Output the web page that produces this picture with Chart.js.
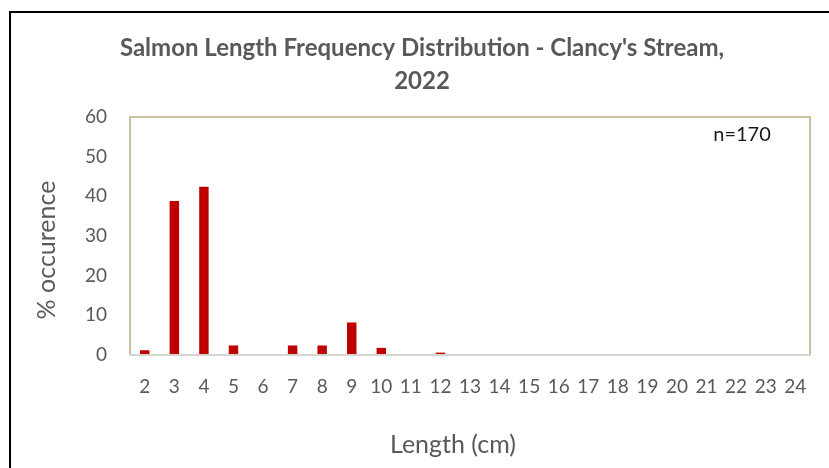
<!DOCTYPE html>
<html>
<head>
<meta charset="utf-8">
<script src="https://cdn.jsdelivr.net/npm/chart.js@4.4.1/dist/chart.umd.min.js"></script>
<style>
  html, body { margin: 0; padding: 0; background: #ffffff; }
  #wrap { position: relative; width: 829px; height: 468px; }
  canvas { display: block; }
</style>
</head>
<body>
<div id="wrap"><canvas id="c" width="829" height="468"></canvas></div>
<script>
// ---- data ----
const lengthCategories = ['2','3','4','5','6','7','8','9','10','11','12','13','14','15','16','17','18','19','20','21','22','23','24'];
const percentOccurrence = [1.2, 38.8, 42.4, 2.4, 0, 2.4, 2.4, 8.2, 1.8, 0, 0.6, 0, 0, 0, 0, 0, 0, 0, 0, 0, 0, 0, 0];
const yTickValues = [0, 10, 20, 30, 40, 50, 60];
const titleLines = ["Salmon Length Frequency Distribution - Clancy's Stream,", "2022"];
const sampleLabel = 'n=170';
const xAxisTitle = 'Length (cm)';
const yAxisTitle = '% occurence';

const FONT = 'Lato, "Open Sans", "Liberation Sans", sans-serif';
const GREY = '#595959';

const framePlugin = {
  id: 'framePlugin',
  beforeDraw(chart) {
    const ctx = chart.ctx;
    ctx.save();
    ctx.fillStyle = '#ffffff';
    ctx.fillRect(0, 0, chart.width, chart.height);
    ctx.strokeStyle = '#000000';
    ctx.lineWidth = 2;
    ctx.beginPath();
    ctx.moveTo(10, chart.height + 5);
    ctx.lineTo(10, 12);
    ctx.lineTo(chart.width + 5, 12);
    ctx.stroke();
    ctx.restore();
  },
  afterDatasetsDraw(chart) {
    const ctx = chart.ctx;
    const a = chart.chartArea;
    ctx.save();
    ctx.lineWidth = 2;
    ctx.strokeStyle = '#C9C19F';
    ctx.beginPath();
    ctx.moveTo(a.left, a.bottom);
    ctx.lineTo(a.left, a.top);
    ctx.lineTo(a.right, a.top);
    ctx.lineTo(a.right, a.bottom);
    ctx.stroke();
    ctx.strokeStyle = '#D6D5CF';
    ctx.beginPath();
    ctx.moveTo(a.left - 1, a.bottom);
    ctx.lineTo(a.right + 1, a.bottom);
    ctx.stroke();
    // sample size annotation
    ctx.fillStyle = '#1a1a1a';
    ctx.font = '20px ' + FONT;
    ctx.textAlign = 'center';
    ctx.textBaseline = 'middle';
    ctx.fillText(sampleLabel, 742, 135);
    // axis titles
    ctx.fillStyle = GREY;
    ctx.font = '25px ' + FONT;
    ctx.fillText(xAxisTitle, 453, 445);
    ctx.translate(47, 250);
    ctx.rotate(-Math.PI / 2);
    ctx.fillText(yAxisTitle, 0, 0);
    ctx.restore();
  }
};

new Chart(document.getElementById('c'), {
  type: 'bar',
  data: {
    labels: lengthCategories,
    datasets: [{
      data: percentOccurrence,
      backgroundColor: '#C00000',
      borderWidth: 0,
      barPercentage: 0.32,
      categoryPercentage: 1.0
    }]
  },
  options: {
    responsive: false,
    animation: false,
    devicePixelRatio: 1,
    layout: { padding: { left: 34, right: 19, top: 0, bottom: 0 } },
    plugins: {
      legend: { display: false },
      tooltip: { enabled: false },
      title: {
        display: true,
        text: titleLines,
        color: GREY,
        font: { family: FONT, size: 24, weight: 'bold', lineHeight: 1.4 },
        padding: { top: 31, bottom: 18.8 }
      }
    },
    scales: {
      x: {
        grid: { display: false, drawTicks: false },
        border: { display: false },
        ticks: {
          color: GREY,
          font: { family: FONT, size: 19 },
          padding: 20,
          maxRotation: 0,
          autoSkip: false
        },
        afterFit(scale) { scale.height = 113; }
      },
      y: {
        min: 0,
        max: 60,
        grid: { display: false, drawTicks: false },
        border: { display: false },
        afterBuildTicks(scale) { scale.ticks = yTickValues.map(v => ({ value: v })); },
        ticks: {
          color: GREY,
          font: { family: FONT, size: 19 },
          padding: 23
        },
        afterFit(scale) { scale.width = 96; }
      }
    }
  },
  plugins: [framePlugin]
});
</script>
</body>
</html>
